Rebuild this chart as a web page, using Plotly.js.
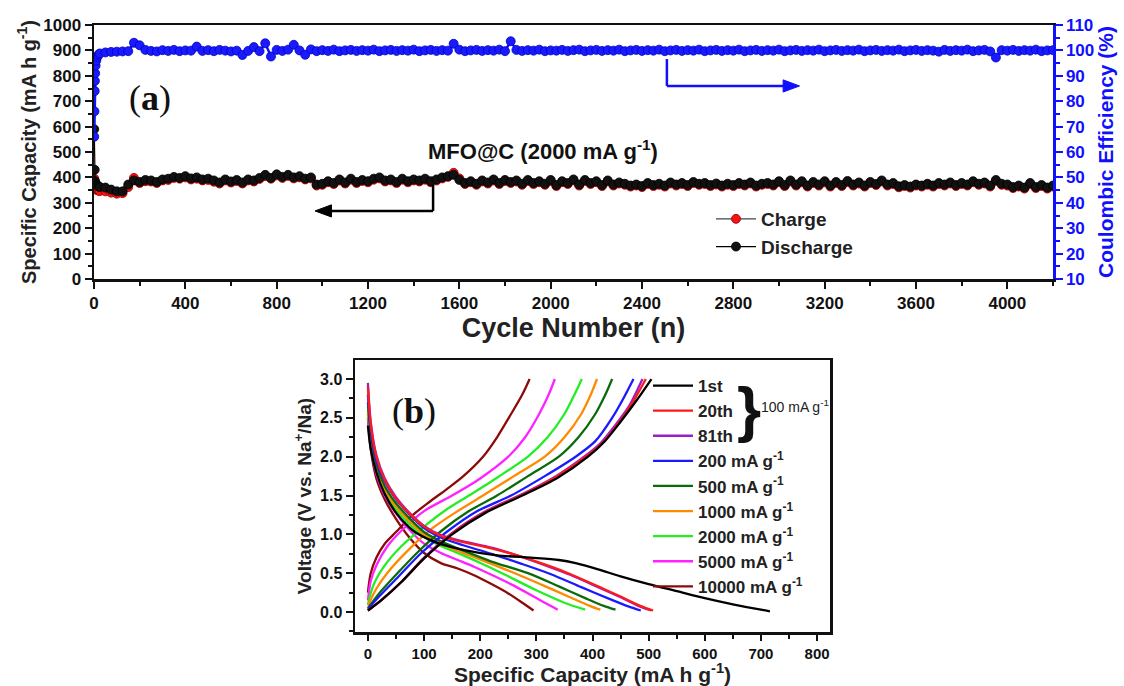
<!DOCTYPE html>
<html><head><meta charset="utf-8">
<script src="https://cdn.plot.ly/plotly-3.0.1.min.js"></script>
<style>html,body{margin:0;padding:0;background:#fff}#chart{width:1124px;height:686px}</style>
</head><body><div id="chart"></div>
<script>
// ---------- Panel (a): cycling data ----------
const cycles = [1,3,5,10,15,20,
25,50,75,100,125,150,175,200,225,250,275,300,325,350,375,400,425,450,475,500,525,550,575,600,625,650,675,700,725,750,775,800,825,850,875,900,925,950,975,
1000,1025,1050,1075,1100,1125,1150,1175,1200,1225,1250,1275,1300,1325,1350,1375,1400,1425,1450,1475,1500,1525,1550,1575,1600,1625,1650,1675,1700,1725,1750,1775,1800,1825,1850,1875,1900,1925,1950,1975,2000,
2025,2050,2075,2100,2125,2150,2175,2200,2225,2250,2275,2300,2325,2350,2375,2400,2425,2450,2475,2500,2525,2550,2575,2600,2625,2650,2675,2700,2725,2750,2775,2800,2825,2850,2875,2900,2925,2950,2975,3000,
3025,3050,3075,3100,3125,3150,3175,3200,3225,3250,3275,3300,3325,3350,3375,3400,3425,3450,3475,3500,3525,3550,3575,3600,3625,3650,3675,3700,3725,3750,3775,3800,3825,3850,3875,3900,3925,3950,3975,4000,
4025,4050,4075,4100,4125,4150,4175,4200];
const dischargeCap = [590,430,385,372,368,365,
362,360,352,345,345,372,388,382,390,388,382,392,395,402,398,405,396,400,392,395,388,380,392,384,390,380,392,388,398,410,398,412,402,410,400,405,395,400,372,
375,385,378,392,380,395,382,390,385,395,400,388,392,382,395,385,392,388,395,385,392,400,405,410,390,378,385,375,388,380,392,378,390,382,388,375,390,378,385,375,390,
370,385,378,392,372,390,378,385,370,388,372,380,375,368,372,366,378,370,375,368,380,372,378,370,382,375,378,370,376,368,375,370,378,372,380,368,375,378,372,385,
370,388,372,385,368,382,372,385,368,382,370,386,372,380,368,382,374,388,372,378,365,370,364,372,368,375,368,378,372,380,370,378,372,385,375,380,368,390,375,372,
362,368,360,378,362,370,360,368];
const chargeCap = [395,372,360,352,350,348,
346,345,340,336,338,362,398,378,385,384,378,388,390,398,395,400,392,395,388,390,383,376,388,380,386,376,388,384,394,405,395,408,398,406,396,400,392,396,368,
371,381,374,388,376,391,378,386,381,391,396,384,388,378,391,381,388,384,391,381,388,396,402,418,396,374,381,371,384,376,388,374,386,378,384,371,386,374,381,371,386,
366,381,374,388,368,386,374,381,366,384,368,376,371,364,368,362,374,366,371,364,376,368,374,366,378,371,374,366,372,364,371,366,374,368,376,364,371,374,368,381,
366,384,368,381,364,378,368,381,364,378,366,382,368,376,364,378,370,384,368,374,361,366,360,368,364,371,364,374,368,376,366,374,368,381,371,376,364,386,371,368,
358,364,356,374,358,366,356,364];
const cyclesCE = [1,2,3,4,5,7,10,15,20,
25,50,75,100,125,150,175,200,225,250,275,300,325,350,375,400,425,450,475,500,525,550,575,600,625,650,675,700,725,750,775,800,825,850,875,900,925,950,975,
1000,1025,1050,1075,1100,1125,1150,1175,1200,1225,1250,1275,1300,1325,1350,1375,1400,1425,1450,1475,1500,1525,1550,1575,1600,1625,1650,1675,1700,1725,1750,1775,1800,1825,1850,1875,1900,1925,1950,1975,2000,
2025,2050,2075,2100,2125,2150,2175,2200,2225,2250,2275,2300,2325,2350,2375,2400,2425,2450,2475,2500,2525,2550,2575,2600,2625,2650,2675,2700,2725,2750,2775,2800,2825,2850,2875,2900,2925,2950,2975,3000,
3025,3050,3075,3100,3125,3150,3175,3200,3225,3250,3275,3300,3325,3350,3375,3400,3425,3450,3475,3500,3525,3550,3575,3600,3625,3650,3675,3700,3725,3750,3775,3800,3825,3850,3875,3900,3925,3950,3975,4000,
4025,4050,4075,4100,4125,4150,4175,4200];
const coulombicEff = [66,76,84,88,91,94,96,97.5,98.3,
98.8,99.2,99.4,99.5,99.6,99.7,103,102,100.2,99.8,99.6,100.1,99.8,100.2,99.7,100,99.9,101.5,99.8,100.1,99.7,100.2,99.9,99.6,99.9,98.2,99.8,101.3,99.7,102.8,97.6,100.2,99.8,100.3,102.2,100,98.3,100.4,99.7,
100.1,99.8,100.3,99.7,100,100.2,99.8,100.1,99.9,100.3,99.7,100,100.2,99.8,100.1,99.9,100.3,99.7,100,100.2,99.8,100.1,99.9,102.6,100.3,99.7,100,100.2,99.8,100.1,99.9,100.3,99.7,103.6,100.2,99.8,100.1,99.9,100.3,99.7,100,
99.9,100.2,99.8,100.1,100.3,99.7,100,100.2,99.8,100.1,99.9,100.3,99.7,100,100.2,99.8,100.1,99.9,100.3,99.7,100,100.2,99.8,100.1,99.9,100.3,99.7,100,100.2,99.8,100.1,99.9,100.3,99.7,100,100.2,99.8,100.1,99.9,100.3,
99.7,100,100.2,99.8,100.1,99.9,100.3,99.7,100,100.2,99.8,100.1,99.9,100.3,99.7,100,100.2,99.8,100.1,99.9,100.3,99.7,100,100.2,99.8,100.1,99.9,99.5,100.2,99.8,100.1,99.9,100.3,99.7,100,100.2,99.6,97.2,100.1,99.9,
100.2,99.8,100.1,99.9,100.3,99.7,100,100.1];

// ---------- Panel (b): voltage profiles ----------
const seriesNames = ["1st","20th","81th","200 mA g<sup>-1</sup>","500 mA g<sup>-1</sup>","1000 mA g<sup>-1</sup>","2000 mA g<sup>-1</sup>","5000 mA g<sup>-1</sup>","10000 mA g<sup>-1</sup>"];
const seriesColors = ["#000000","#ff1a1a","#9b1fc8","#1a1aff","#0b6b0b","#ff8a00","#22ee22","#ff22ff","#8b0a0a"];
// discharge (capacity, voltage)
const dis1stCap = [0,5,15,30,50,80,120,170,230,290,340,370,410,450,500,550,600,650,700,716];
const dis1stV   = [2.4,2.1,1.8,1.52,1.28,1.05,0.9,0.8,0.73,0.7,0.67,0.63,0.55,0.46,0.36,0.27,0.18,0.1,0.03,0.01];
const dis20Cap = [0,5,15,30,50,75,100,130,170,220,270,320,360,410,450,485,508];
const dis20V   = [2.9,2.42,2.0,1.7,1.46,1.26,1.1,0.98,0.9,0.82,0.72,0.6,0.49,0.33,0.2,0.08,0.02];
const dis81Cap = [0,5,15,30,50,75,100,130,170,220,270,320,360,410,450,485,505];
const dis81V   = [2.95,2.45,2.02,1.72,1.48,1.27,1.11,0.99,0.91,0.83,0.72,0.59,0.48,0.32,0.19,0.07,0.02];
const dis200Cap = [0,5,15,30,50,75,100,130,170,220,270,325,380,430,465,486];
const dis200V   = [2.8,2.35,1.95,1.68,1.45,1.25,1.08,0.96,0.86,0.75,0.63,0.49,0.32,0.17,0.07,0.02];
const dis500Cap = [0,5,15,30,50,75,100,130,170,220,285,340,390,420,441];
const dis500V   = [2.7,2.3,1.9,1.62,1.4,1.2,1.03,0.91,0.79,0.65,0.5,0.33,0.17,0.08,0.03];
const dis1000Cap = [0,5,15,30,50,75,100,130,170,220,265,310,360,395,414];
const dis1000V   = [2.65,2.25,1.86,1.58,1.36,1.16,1.0,0.88,0.76,0.62,0.49,0.35,0.19,0.08,0.03];
const dis2000Cap = [0,5,15,30,50,75,100,130,170,210,250,300,350,387];
const dis2000V   = [2.6,2.2,1.82,1.55,1.32,1.12,0.97,0.85,0.73,0.6,0.46,0.28,0.12,0.03];
const dis5000Cap = [0,5,15,30,50,75,100,130,160,190,220,260,300,325,338];
const dis5000V   = [2.55,2.15,1.78,1.5,1.27,1.05,0.88,0.76,0.67,0.58,0.48,0.34,0.18,0.08,0.03];
const dis10000Cap = [0,5,15,30,50,75,100,130,160,190,220,250,275,295];
const dis10000V   = [2.5,2.1,1.72,1.45,1.2,0.95,0.76,0.63,0.56,0.47,0.36,0.24,0.12,0.02];
// charge (capacity, voltage)
const ch1stCap = [0,25,60,100,150,210,275,338,392,422,450,478,505];
const ch1stV   = [0.02,0.16,0.39,0.69,1.0,1.28,1.5,1.73,2.0,2.2,2.45,2.72,3.0];
const ch20Cap = [0,25,60,100,150,210,275,335,388,418,445,470,495];
const ch20V   = [0.02,0.16,0.39,0.69,1.01,1.29,1.51,1.74,2.0,2.18,2.42,2.68,3.0];
const ch81Cap = [0,25,60,100,150,210,275,335,385,415,440,465,489];
const ch81V   = [0.02,0.16,0.39,0.7,1.02,1.3,1.52,1.75,2.0,2.18,2.4,2.65,3.0];
const ch200Cap = [0,20,55,95,140,195,255,315,370,405,435,455,473];
const ch200V   = [0.04,0.2,0.46,0.76,1.03,1.3,1.5,1.75,2.0,2.2,2.5,2.75,3.0];
const ch500Cap = [0,20,50,90,130,180,230,285,340,375,405,423,435];
const ch500V   = [0.05,0.24,0.48,0.78,1.04,1.3,1.5,1.75,2.0,2.25,2.55,2.8,3.0];
const ch1000Cap = [0,15,40,75,115,160,205,260,315,350,380,397,408];
const ch1000V   = [0.08,0.3,0.55,0.82,1.08,1.3,1.5,1.75,2.0,2.25,2.55,2.8,3.0];
const ch2000Cap = [0,10,30,60,100,140,180,230,285,320,350,368,381];
const ch2000V   = [0.1,0.35,0.6,0.85,1.1,1.32,1.5,1.73,2.0,2.25,2.55,2.8,3.0];
const ch5000Cap = [0,5,15,35,60,100,150,200,250,280,305,322,333];
const ch5000V   = [0.15,0.4,0.6,0.85,1.05,1.3,1.5,1.72,2.0,2.25,2.55,2.8,3.0];
const ch10000Cap = [0,5,15,30,50,80,110,140,170,205,230,255,275,288];
const ch10000V   = [0.25,0.5,0.7,0.88,1.03,1.25,1.42,1.58,1.75,2.0,2.25,2.55,2.8,3.0];

const disCaps = [dis1stCap,dis20Cap,dis81Cap,dis200Cap,dis500Cap,dis1000Cap,dis2000Cap,dis5000Cap,dis10000Cap];
const disVs   = [dis1stV,dis20V,dis81V,dis200V,dis500V,dis1000V,dis2000V,dis5000V,dis10000V];
const chCaps  = [ch1stCap,ch20Cap,ch81Cap,ch200Cap,ch500Cap,ch1000Cap,ch2000Cap,ch5000Cap,ch10000Cap];
const chVs    = [ch1stV,ch20V,ch81V,ch200V,ch500V,ch1000V,ch2000V,ch5000V,ch10000V];

const FONT = "Liberation Sans, Arial, sans-serif";
const traces = [];
traces.push({x: cycles, y: chargeCap, xaxis:'x', yaxis:'y', type:'scatter', mode:'lines+markers', name:'Charge',
  line:{color:'#444', width:1.2}, marker:{color:'#ff1010', size:9, line:{color:'#900000', width:0.8}}, legend:'legend', legendgroup:'c'});
traces.push({x: cycles, y: dischargeCap, xaxis:'x', yaxis:'y', type:'scatter', mode:'lines+markers', name:'Discharge',
  line:{color:'#000000', width:1.2}, marker:{color:'#111111', size:9, line:{color:'#000000', width:0.8}}, legend:'legend', legendgroup:'d'});
traces.push({x: cyclesCE, y: coulombicEff, xaxis:'x', yaxis:'y2', type:'scatter', mode:'lines+markers', name:'Coulombic Efficiency',
  line:{color:'#1010ff', width:2.5}, marker:{color:'#1a1aff', size:9, line:{color:'#0000c0', width:0.8}}, showlegend:false});

for (let i = seriesNames.length - 1; i >= 0; i--) {
  traces.push({x: disCaps[i], y: disVs[i], xaxis:'x2', yaxis:'y3', type:'scatter', mode:'lines', name: seriesNames[i],
    legendgroup:'g'+i, showlegend:false, line:{color: seriesColors[i], width:2.3, shape:'spline', smoothing:0.8}, legend:'legend2'});
  traces.push({x: chCaps[i], y: chVs[i], xaxis:'x2', yaxis:'y3', type:'scatter', mode:'lines', name: seriesNames[i],
    legendgroup:'g'+i, showlegend:true, legendrank: i+1, line:{color: seriesColors[i], width:2.3, shape:'spline', smoothing:0.8}, legend:'legend2'});
}

const W = 1124, H = 686;
const px = v => v / W, py = v => 1 - v / H;
const boldTick = {family: FONT, size: 17, color:'#111', weight:'bold'};

const layout = {
  width: W, height: H,
  margin: {l:0, r:0, t:0, b:0},
  paper_bgcolor:'#fff', plot_bgcolor:'rgba(0,0,0,0)',
  font: {family: FONT, color:'#111'},
  showlegend: true,
  xaxis: {domain:[px(94), px(1053)], anchor:'y', range:[0,4200], tick0:0, dtick:400,
    ticks:'outside', ticklen:7, tickwidth:2, tickcolor:'#111',
    minor:{dtick:200, ticks:'outside', ticklen:4, tickwidth:2, tickcolor:'#111'},
    showline:true, linewidth:2.5, linecolor:'#111', mirror:true, showgrid:false, zeroline:false,
    tickfont: boldTick,
    title:{text:'Cycle Number (n)', font:{family:FONT, size:27, weight:'bold', color:'#222'}, standoff:0}},
  yaxis: {domain:[py(279), py(25)], anchor:'x', range:[0,1000], tick0:0, dtick:100,
    ticks:'outside', ticklen:7, tickwidth:2, tickcolor:'#111',
    minor:{dtick:50, ticks:'outside', ticklen:4, tickwidth:2, tickcolor:'#111'},
    showline:true, linewidth:2.5, linecolor:'#111', showgrid:false, zeroline:false,
    tickfont: boldTick,
    title:{text:'Specific Capacity (mA h g<sup>-1</sup>)', font:{family:FONT, size:20, weight:'bold', color:'#222'}, standoff:2}},
  yaxis2: {overlaying:'y', side:'right', anchor:'x', range:[10,110], tick0:10, dtick:10,
    ticks:'outside', ticklen:7, tickwidth:2, tickcolor:'#1010ff',
    minor:{dtick:5, ticks:'outside', ticklen:4, tickwidth:2, tickcolor:'#1010ff'},
    showline:true, linewidth:2.5, linecolor:'#1010ff', showgrid:false, zeroline:false,
    tickfont:{family:FONT, size:17, color:'#1010ff', weight:'bold'},
    title:{text:'Coulombic Efficiency (%)', font:{family:FONT, size:21, weight:'bold', color:'#1010ff'}, standoff:2}},
  xaxis2: {domain:[px(355), px(830)], anchor:'y3', range:[-23,823], tick0:0, dtick:100,
    ticks:'outside', ticklen:6, tickwidth:2, tickcolor:'#111',
    minor:{dtick:50, ticks:'outside', ticklen:4, tickwidth:2, tickcolor:'#111'},
    showline:true, linewidth:2.5, linecolor:'#111', mirror:true, showgrid:false, zeroline:false,
    tickfont:{family: FONT, size: 15, color:'#111', weight:'bold'},
    title:{text:'Specific Capacity (mA h g<sup>-1</sup>)', font:{family:FONT, size:21, weight:'bold', color:'#222'}, standoff:6}},
  yaxis3: {domain:[py(632), py(360)], anchor:'x2', range:[-0.257,3.245], tick0:0, dtick:0.5, tickformat:'.1f',
    ticks:'outside', ticklen:7, tickwidth:2, tickcolor:'#111',
    minor:{dtick:0.25, ticks:'outside', ticklen:4, tickwidth:2, tickcolor:'#111'},
    showline:true, linewidth:2.5, linecolor:'#111', mirror:true, showgrid:false, zeroline:false,
    tickfont:{family: FONT, size: 16, color:'#111', weight:'bold'},
    title:{text:'Voltage (V vs. Na<sup>+</sup>/Na)', font:{family:FONT, size:19, weight:'bold', color:'#222'}, standoff:4}},
  legend: {x: px(711), y: py(200), xanchor:'left', yanchor:'top', bgcolor:'rgba(0,0,0,0)',
    font:{family:FONT, size:19, weight:'bold', color:'#222'}, itemwidth:40, tracegroupgap:0, traceorder:'grouped'},
  legend2: {x: px(648), y: py(368), xanchor:'left', yanchor:'top', bgcolor:'rgba(0,0,0,0)',
    font:{family:FONT, size:17, weight:'bold', color:'#222'}, itemwidth:40, tracegroupgap:0, traceorder:'normal'},
  shapes: [
    {type:'line', xref:'x', yref:'y', x0:1485, x1:1485, y0:370, y1:268, line:{color:'#000', width:2.5}},
    {type:'line', xref:'x', yref:'y', x0:1485, x1:1030, y0:268, y1:268, line:{color:'#000', width:2.5}},
    {type:'path', xref:'x', yref:'y', path:'M 968 268 L 1040 292 L 1040 244 Z', fillcolor:'#000', line:{color:'#000', width:1}},
    {type:'line', xref:'x', yref:'y2', x0:2509, x1:2509, y0:96.6, y1:86, line:{color:'#1010ff', width:2.5}},
    {type:'line', xref:'x', yref:'y2', x0:2509, x1:3030, y0:86, y1:86, line:{color:'#1010ff', width:2.5}},
    {type:'path', xref:'x', yref:'y2', path:'M 3090 86 L 3018 88.4 L 3018 83.6 Z', fillcolor:'#1010ff', line:{color:'#1010ff', width:1}}
  ],
  annotations: [
    {xref:'paper', yref:'paper', x:px(150), y:py(98), xanchor:'center', yanchor:'middle', showarrow:false,
      text:'(<b>a</b>)', font:{family:'Liberation Serif, Times New Roman, serif', size:36, color:'#111'}},
    {xref:'paper', yref:'paper', x:px(414), y:py(411), xanchor:'center', yanchor:'middle', showarrow:false,
      text:'(<b>b</b>)', font:{family:'Liberation Serif, Times New Roman, serif', size:36, color:'#111'}},
    {xref:'paper', yref:'paper', x:px(543), y:py(150), xanchor:'center', yanchor:'middle', showarrow:false,
      text:'MFO@C (2000 mA g<sup>-1</sup>)', font:{family:FONT, size:22, weight:'bold', color:'#111'}},
    {xref:'paper', yref:'paper', x:px(749), y:py(408), xanchor:'center', yanchor:'middle', showarrow:false,
      text:'}', font:{family:FONT, size:62, weight:'bold', color:'#111'}},
    {xref:'paper', yref:'paper', x:px(759), y:py(406), xanchor:'left', yanchor:'middle', showarrow:false,
      text:'100 mA g<sup>-1</sup>', font:{family:FONT, size:14, color:'#222'}}
  ]
};

Plotly.newPlot('chart', traces, layout, {displayModeBar:false, staticPlot:true});
</script>
</body></html>
